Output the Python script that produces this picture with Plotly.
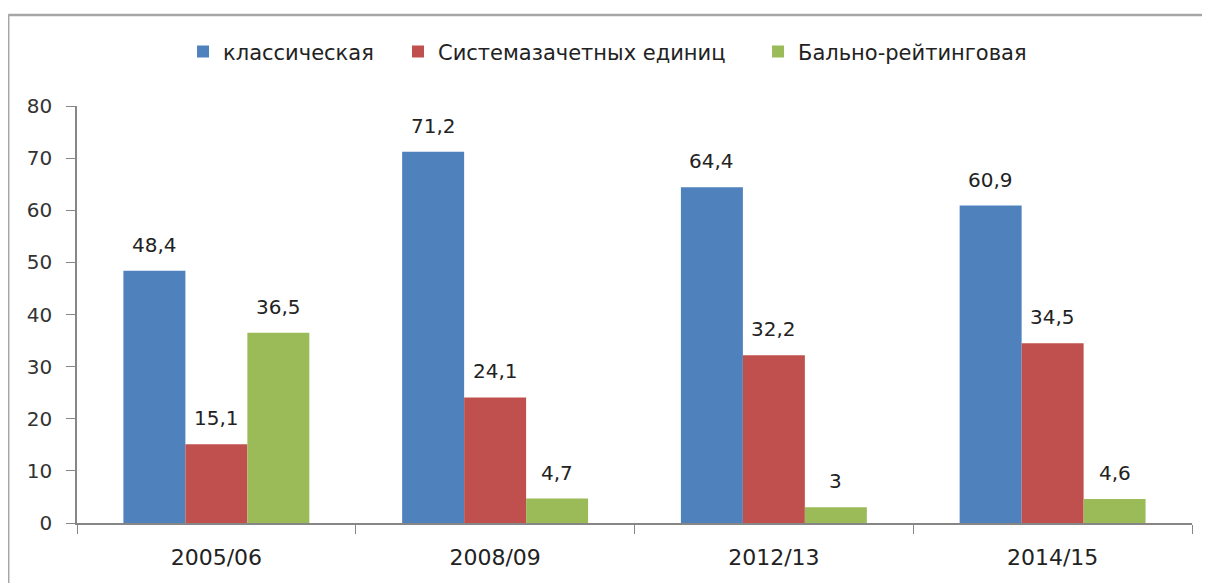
import plotly.graph_objects as go

categories = ["2005/06", "2008/09", "2012/13", "2014/15"]
series_names = ["классическая", "Системазачетных единиц", "Бально-рейтинговая"]
classic = [48.4, 71.2, 64.4, 60.9]
credits = [15.1, 24.1, 32.2, 34.5]
rating = [36.5, 4.7, 3.0, 4.6]
y_ticks = [0, 10, 20, 30, 40, 50, 60, 70, 80]

colors = ["#4F81BD", "#C0504D", "#9BBB59"]
series = [classic, credits, rating]
legend_ids = ["legend", "legend2", "legend3"]
legend_x = [0.0951, 0.2879, 0.6108]
bargap = 0.333
FONT = "DejaVu Sans"

fig = go.Figure()
for name, vals, col, lg in zip(series_names, series, colors, legend_ids):
    fig.add_trace(go.Bar(name=name, x=categories, y=vals, legend=lg,
                         showlegend=True,
                         marker=dict(color=col, line=dict(width=0))))

def fmt(v):
    s = ("%.1f" % v).rstrip("0").rstrip(".")
    return s.replace(".", ",")

bw = (1 - bargap) / len(series)
annotations = []
for si, vals in enumerate(series):
    off = (si - (len(series) - 1) / 2) * bw
    for ci, v in enumerate(vals):
        annotations.append(dict(x=ci + off, y=v, xref="x", yref="y",
                                text=fmt(v), showarrow=False,
                                yanchor="bottom", yshift=12,
                                font=dict(family=FONT, size=20, color="#222222")))

border = "#A6A6A6"
shapes = [
    dict(type="line", xref="paper", yref="paper", x0=-0.0617, x1=1.05,
         y0=1.218, y1=1.218, line=dict(color=border, width=2.5)),
    dict(type="line", xref="paper", yref="paper", x0=-0.0617, x1=-0.0617,
         y0=1.218, y1=-0.2, line=dict(color=border, width=2.5)),
]

legend_style = dict(orientation="h", xanchor="left", y=1.13, yanchor="middle",
                    font=dict(family=FONT, size=21, color="#222222"),
                    itemwidth=30, bgcolor="rgba(0,0,0,0)")

# the page adds an 8px body margin, so the margins are shifted to compensate
fig.update_layout(
    width=1210, height=583,
    margin=dict(l=69, r=26, t=98, b=68),
    paper_bgcolor="white", plot_bgcolor="white",
    showlegend=True,
    barmode="group", bargap=bargap, bargroupgap=0,
    font=dict(family=FONT, size=20, color="#222222"),
    annotations=annotations,
    shapes=shapes,
    xaxis=dict(type="category", showline=True, linecolor="#868686", linewidth=1.5,
               ticks="outside", tickson="boundaries", ticklen=9, tickcolor="#868686",
               ticklabelstandoff=14,
               tickfont=dict(family=FONT, size=22, color="#222222"),
               showgrid=False, zeroline=False),
    yaxis=dict(range=[0, 80], tickvals=y_ticks, showline=True, linecolor="#868686",
               linewidth=1.5, ticks="outside", ticklen=9, tickcolor="#868686",
               ticklabelstandoff=10,
               tickfont=dict(family=FONT, size=20, color="#333333"),
               showgrid=False, zeroline=False),
)
for lg, lx in zip(legend_ids, legend_x):
    fig.update_layout({lg: dict(legend_style, x=lx)})

fig.write_html("out.html")
